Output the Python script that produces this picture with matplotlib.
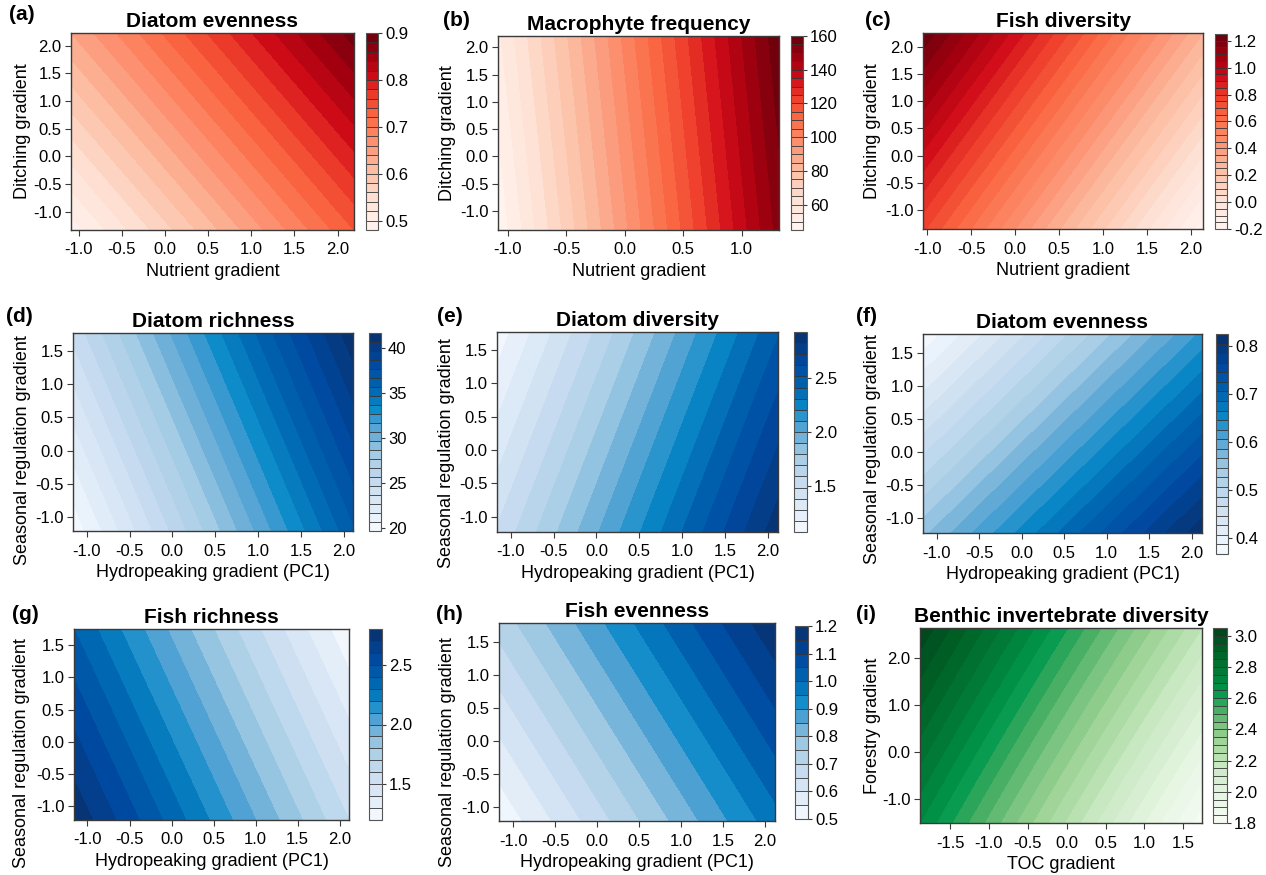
import numpy as np
import matplotlib
matplotlib.use("Agg")
import matplotlib.pyplot as plt
from matplotlib.colors import LinearSegmentedColormap
from matplotlib.ticker import FormatStrFormatter

plt.rcParams['font.family'] = ['Liberation Sans', 'DejaVu Sans']

# ---- data ----
panel_tags = ['(a)', '(b)', '(c)', '(d)', '(e)', '(f)', '(g)', '(h)', '(i)']
titles = ['Diatom evenness', 'Macrophyte frequency', 'Fish diversity',
          'Diatom richness', 'Diatom diversity', 'Diatom evenness',
          'Fish richness', 'Fish evenness', 'Benthic invertebrate diversity']
hydro = 'Hydropeaking gradient (PC1)'
season = 'Seasonal regulation gradient'
xlabels = ['Nutrient gradient'] * 3 + [hydro] * 5 + ['TOC gradient']
ylabels = ['Ditching gradient'] * 3 + [season] * 5 + ['Forestry gradient']
palettes = ['reds'] * 3 + ['blues'] * 5 + ['greens']

x_ranges = [(-1.09, 2.19), (-1.085, 1.32), (-1.05, 2.14),
            (-1.16, 2.11), (-1.16, 2.12), (-1.16, 2.12),
            (-1.16, 2.11), (-1.17, 2.12), (-1.886, 1.74)]
y_ranges = [(-1.33, 2.23), (-1.35, 2.21), (-1.35, 2.25),
            (-1.21, 1.77), (-1.23, 1.77), (-1.22, 1.78),
            (-1.21, 1.75), (-1.22, 1.79), (-1.5, 2.64)]

# predicted response at the four corners: bottom-left, bottom-right, top-left, top-right
z_bl = [0.49, 46, 0.76, 20.0, 1.50, 0.56, 2.78, 0.51, 2.70]
z_br = [0.74, 152, -0.18, 36.5, 2.88, 0.82, 1.60, 0.98, 1.82]
z_tl = [0.64, 54, 1.24, 25.0, 1.12, 0.37, 2.40, 0.72, 3.04]
z_tr = [0.89, 159, 0.30, 41.4, 2.50, 0.63, 1.22, 1.19, 2.20]

# contour bands: lowest level, highest level, step
lev_lo = [0.48, 45, -0.2, 19.7, 1.08, 0.366, 1.2, 0.5, 1.8]
lev_hi = [0.90, 160, 1.25, 41.7, 2.92, 0.826, 2.8, 1.2, 3.05]
lev_step = [0.02, 5, 0.05, 1.0, 0.1, 0.02, 0.1, 0.05, 0.05]

x_ticks = [np.arange(-1.0, 2.01, 0.5), np.arange(-1.0, 1.01, 0.5), np.arange(-1.0, 2.01, 0.5)] \
    + [np.arange(-1.0, 2.01, 0.5)] * 5 + [np.arange(-1.5, 1.51, 0.5)]
y_ticks = [np.arange(-1.0, 2.01, 0.5)] * 3 + [np.arange(-1.0, 1.51, 0.5)] * 5 + [np.arange(-1.0, 2.01, 1.0)]
cb_ticks = [[0.5, 0.6, 0.7, 0.8, 0.9], [60, 80, 100, 120, 140, 160],
            [-0.2, 0.0, 0.2, 0.4, 0.6, 0.8, 1.0, 1.2], [20, 25, 30, 35, 40],
            [1.5, 2.0, 2.5], [0.4, 0.5, 0.6, 0.7, 0.8], [1.5, 2.0, 2.5],
            [0.5, 0.6, 0.7, 0.8, 0.9, 1.0, 1.1, 1.2], [1.8, 2.0, 2.2, 2.4, 2.6, 2.8, 3.0]]
cb_fmt = ['%.1f', '%d', '%.1f', '%d', '%.1f', '%.1f', '%.1f', '%.1f', '%.1f']

# colour ramps sampled from the figure's colour keys
ramps = {
    'reds': [(0.0, '#fff5f2'), (0.15, '#fee2d6'), (0.3, '#fcc0a5'), (0.45, '#fc9070'),
             (0.58, '#fb6a44'), (0.68, '#ee3f2c'), (0.78, '#d00c18'), (0.88, '#a4000f'),
             (1.0, '#67000d')],
    'blues': [(0.0, '#f7fbff'), (0.12, '#dfebf7'), (0.25, '#c6dbef'), (0.38, '#a6cde5'),
              (0.48, '#6eb0d8'), (0.56, '#3f9bd0'), (0.62, '#0a8ac8'), (0.72, '#0067b2'),
              (0.85, '#0048a0'), (1.0, '#08306b')],
    'greens': [(0.0, '#f7fcf5'), (0.15, '#e5f4e1'), (0.3, '#c7e8c0'), (0.42, '#a0d498'),
               (0.52, '#72c07a'), (0.6, '#3aa95e'), (0.67, '#009a4e'), (0.78, '#007a36'),
               (0.9, '#005f25'), (1.0, '#00441b')],
}

# ---- layout in pixels (left, top, right, bottom) ----
W, H = 1266, 875
ax_px = [(71, 33, 354, 230), (498, 36, 779, 230), (923, 33, 1203, 229),
         (73, 333, 353, 531), (497, 332, 778, 532), (923, 334, 1202, 533),
         (74, 629, 349, 820), (499, 623, 775, 821), (920, 628, 1202, 823)]
cb_px = [(366, 33, 378, 230), (791, 36, 803, 230), (1215, 34, 1227, 229),
         (369, 333, 381, 531), (794, 332, 807, 532), (1216, 334, 1228, 554),
         (369, 629, 382, 820), (795, 626, 808, 819), (1213, 628, 1227, 823)]
tag_px = [(9, 15), (443, 21), (865, 21), (6, 316), (437, 316), (856, 317),
          (12, 614), (436, 614), (856, 614)]
ylab_pos = [(-0.143, 0.5), (-0.148, 0.5), (-0.15, 0.5), (-0.15, 0.41), (-0.148, 0.395),
            (-0.15, 0.42), (-0.16, 0.35), (-0.155, 0.35), (-0.137, 0.5)]


def rect(p):
    l, t, r, b = p
    return [l / W, 1 - b / H, (r - l) / W, (b - t) / H]


fig = plt.figure(figsize=(W / 100, H / 100), dpi=100)
edge = '#3a3a3a'

for i in range(9):
    ax = fig.add_axes(rect(ax_px[i]))
    xs = np.linspace(x_ranges[i][0], x_ranges[i][1], 120)
    ys = np.linspace(y_ranges[i][0], y_ranges[i][1], 120)
    u, v = np.meshgrid(np.linspace(0, 1, 120), np.linspace(0, 1, 120))
    Z = (z_bl[i] * (1 - u) * (1 - v) + z_br[i] * u * (1 - v)
         + z_tl[i] * (1 - u) * v + z_tr[i] * u * v)
    n = int(round((lev_hi[i] - lev_lo[i]) / lev_step[i]))
    levels = np.linspace(lev_lo[i], lev_hi[i], n + 1)
    cmap = LinearSegmentedColormap.from_list(palettes[i], ramps[palettes[i]])
    cs = ax.contourf(xs, ys, Z, levels=levels, cmap=cmap)
    ax.set_xlim(x_ranges[i])
    ax.set_ylim(y_ranges[i])
    ax.set_xticks(x_ticks[i])
    ax.set_yticks(y_ticks[i])
    ax.xaxis.set_major_formatter(FormatStrFormatter('%.1f'))
    ax.yaxis.set_major_formatter(FormatStrFormatter('%.1f'))
    plt.setp(ax.get_xticklabels() + ax.get_yticklabels(), fontsize=12)
    ax.tick_params(direction='out', length=4, width=0.8, color=edge, pad=3)
    ax.tick_params(axis='x', pad=5)
    for s in ax.spines.values():
        s.set_color(edge)
        s.set_linewidth(1.0)
    ax.set_title(titles[i], fontsize=15, fontweight='bold', pad=4)
    ax.set_xlabel(xlabels[i], fontsize=13, labelpad=4)
    ax.set_ylabel(ylabels[i], fontsize=13)
    ax.yaxis.set_label_coords(*ylab_pos[i])

    cax = fig.add_axes(rect(cb_px[i]))
    cb = fig.colorbar(cs, cax=cax, drawedges=True)
    cb.dividers.set_color('#333333')
    cb.dividers.set_linewidth(0.6)
    cb.outline.set_edgecolor('#555555')
    cb.outline.set_linewidth(0.8)
    cb.set_ticks(cb_ticks[i])
    cb.ax.yaxis.set_major_formatter(FormatStrFormatter(cb_fmt[i]))
    cb.ax.tick_params(labelsize=12, length=3, width=0.8, color=edge, pad=2)

    fig.text(tag_px[i][0] / W, 1 - tag_px[i][1] / H, panel_tags[i],
             fontsize=15, fontweight='bold', va='center', ha='left')

fig.savefig('out.png', dpi=100)
